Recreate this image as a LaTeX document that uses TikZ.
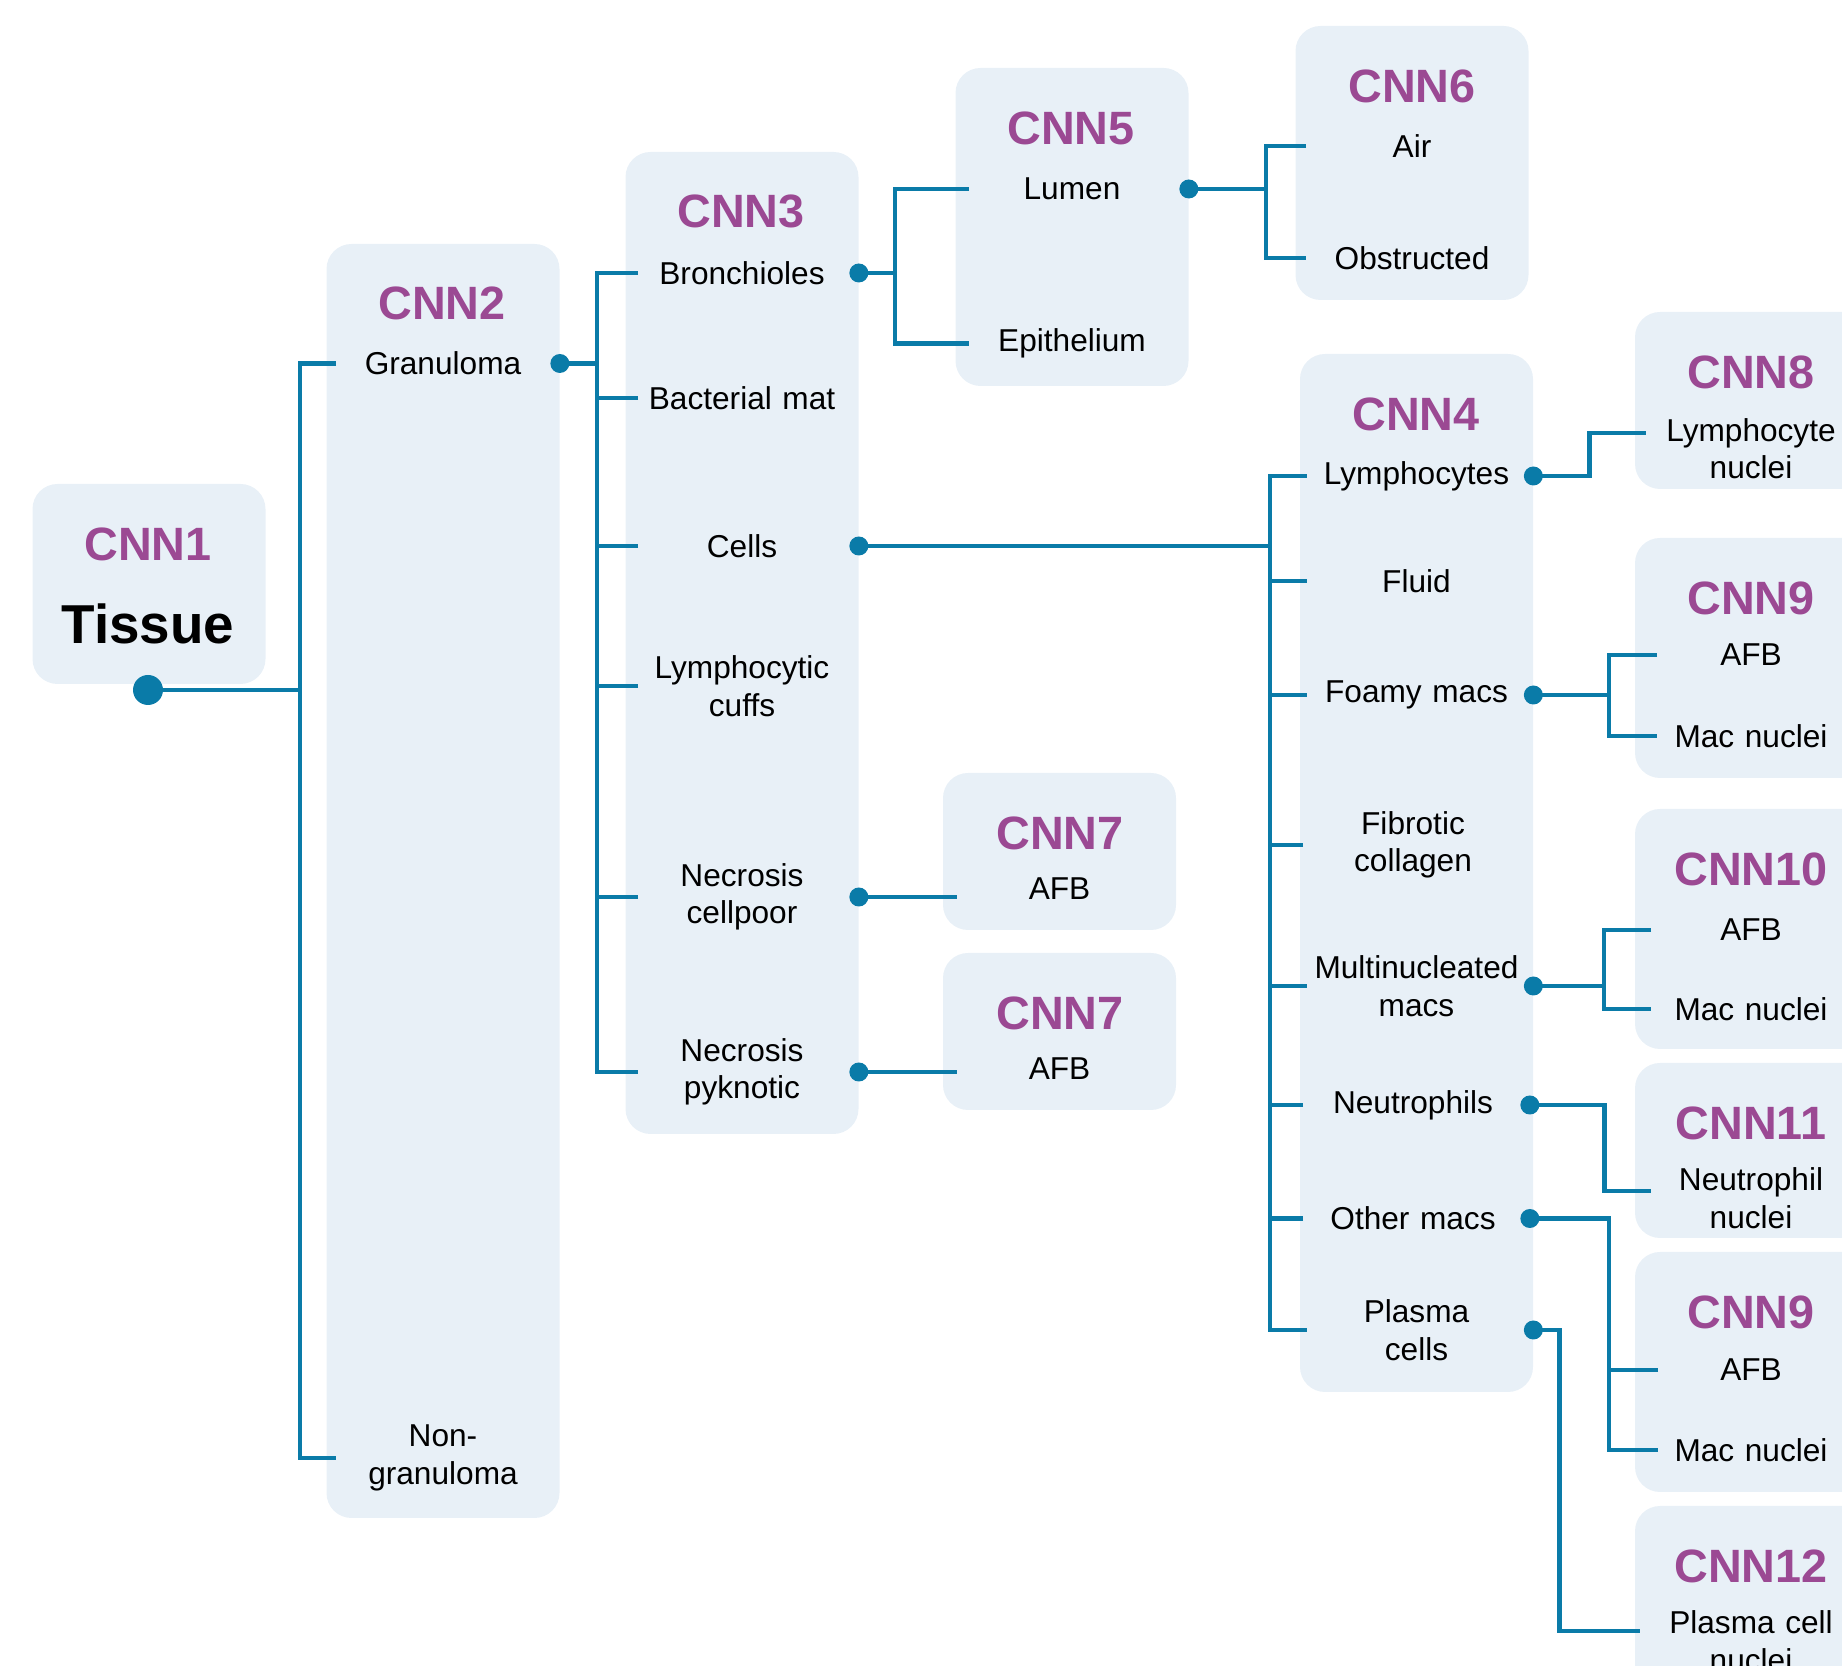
\documentclass[tikz,border=0pt]{standalone}
\usepackage{fontspec}
\setmainfont{Liberation Sans}
\usepackage{xcolor}
\usepackage{tikz}
\definecolor{boxblue}{HTML}{E8F0F7}
\definecolor{linkblue}{HTML}{0A7BA8}
\definecolor{cnnpurple}{HTML}{9B4993}
\tikzset{
  cnnbox/.style={fill=boxblue, rounded corners=0.5cm, minimum width=4.66cm, inner sep=0pt},
  cnn/.style={text=cnnpurple, font=\bfseries\fontsize{26.6}{30}\selectfont},
  item/.style={font=\fontsize{18}{21.3}\selectfont, align=center, text width=4.66cm, inner xsep=0pt, inner ysep=0pt},
  link/.style={draw=linkblue, line width=2.8pt},
  dot/.style={circle, fill=linkblue, inner sep=0pt, minimum size=0.38cm},
  bigdot/.style={dot, minimum size=0.6cm},
}
\begin{document}
\begin{tikzpicture}
      \useasboundingbox (0,0) rectangle (36.84,33.32);
      \clip (0,0) rectangle (36.84,33.32);

      % Boxes
      \node[cnnbox, minimum height=4.00cm] (cnn1) at (2.98,21.64) {};
      \node[cnnbox, minimum height=25.48cm] (cnn2) at (8.86,15.70) {};
      \node[cnnbox, minimum height=19.64cm] (cnn3) at (14.84,20.46) {};
      \node[cnnbox, minimum height=6.36cm] (cnn5) at (21.44,28.78) {};
      \node[cnnbox, minimum height=5.48cm] (cnn6) at (28.24,30.06) {};
      \node[cnnbox, minimum height=20.76cm] (cnn4) at (28.33,15.86) {};
      \node[cnnbox, minimum height=3.14cm] (cnn7a) at (21.19,16.29) {};
      \node[cnnbox, minimum height=3.14cm] (cnn7b) at (21.19,12.69) {};
      \node[cnnbox, minimum height=3.54cm] (cnn8) at (35.03,25.31) {};
      \node[cnnbox, minimum height=4.80cm] (cnn9a) at (35.03,20.16) {};
      \node[cnnbox, minimum height=4.80cm] (cnn10) at (35.03,14.74) {};
      \node[cnnbox, minimum height=3.50cm] (cnn11) at (35.03,10.31) {};
      \node[cnnbox, minimum height=4.80cm] (cnn9b) at (35.03,5.88) {};
      \node[cnnbox, minimum height=4.00cm] (cnn12) at (35.03,1.20) {};

      % Titles
      \node[cnn] (t1) at (2.96,22.44) {CNN1};
      \node[font=\bfseries\fontsize{31.2}{34}\selectfont] (tissue) at (2.96,20.84) {Tissue};
      \node[cnn] (t2) at (8.84,27.26) {CNN2};
      \node[cnn] (t3) at (14.82,29.10) {CNN3};
      \node[cnn] (t5) at (21.42,30.76) {CNN5};
      \node[cnn] (t6) at (28.24,31.60) {CNN6};
      \node[cnn] (t4) at (28.32,25.04) {CNN4};
      \node[cnn] (t7a) at (21.20,16.66) {CNN7};
      \node[cnn] (t7b) at (21.20,13.06) {CNN7};
      \node[cnn] (t8) at (35.02,25.88) {CNN8};
      \node[cnn] (t9a) at (35.02,21.36) {CNN9};
      \node[cnn] (t10) at (35.02,15.94) {CNN10};
      \node[cnn] (t11) at (35.02,10.86) {CNN11};
      \node[cnn] (t9b) at (35.02,7.08) {CNN9};
      \node[cnn] (t12) at (35.02,2.00) {CNN12};

      % Items
      \node[item] (gran) at (8.86,26.05) {Granuloma};
      \node[item] (nongran) at (8.86,4.16) {Non-\\granuloma};

      \node[item] (bronch) at (14.84,27.86) {Bronchioles};
      \node[item] (bact) at (14.84,25.36) {Bacterial mat};
      \node[item] (cells) at (14.84,22.40) {Cells};
      \node[item] (cuffs) at (14.84,19.60) {Lymphocytic\\cuffs};
      \node[item] (cellpoor) at (14.84,15.38) {Necrosis\\cellpoor};
      \node[item] (pyk) at (14.84,11.88) {Necrosis\\pyknotic};

      \node[item] (lumen) at (21.44,29.54) {Lumen};
      \node[item] (epith) at (21.44,26.45) {Epithelium};

      \node[item] (air) at (28.24,30.40) {Air};
      \node[item] (obstr) at (28.24,28.16) {Obstructed};

      \node[item] (lympho) at (28.33,23.80) {Lymphocytes};
      \node[item] (fluid) at (28.33,21.70) {Fluid};
      \node[item] (foamy) at (28.33,19.42) {Foamy macs};
      \node[item] (fibro) at (28.26,16.42) {Fibrotic\\collagen};
      \node[item] (multi) at (28.33,13.60) {Multinucleated\\macs};
      \node[item] (neutro) at (28.26,11.22) {Neutrophils};
      \node[item] (omacs) at (28.26,8.95) {Other macs};
      \node[item] (plasma) at (28.33,6.72) {Plasma\\cells};

      \node[item] (afb7a) at (21.19,15.54) {AFB};
      \node[item] (afb7b) at (21.19,11.94) {AFB};

      \node[item] (lymnuc) at (35.02,24.34) {Lymphocyte\\nuclei};
      \node[item] (afb9a) at (35.02,20.22) {AFB};
      \node[item] (mac9a) at (35.02,18.60) {Mac nuclei};
      \node[item] (afb10) at (35.02,14.72) {AFB};
      \node[item] (mac10) at (35.02,13.14) {Mac nuclei};
      \node[item] (neunuc) at (35.02,9.36) {Neutrophil\\nuclei};
      \node[item] (afb9b) at (35.02,5.92) {AFB};
      \node[item] (mac9b) at (35.02,4.32) {Mac nuclei};
      \node[item] (plasnuc) at (35.02,0.50) {Plasma cell\\nuclei};

      % CNN1 -> CNN2
      \node[bigdot] (tdot) at (2.96,19.52) {};
      \coordinate (b1) at (6.00,19.52);
      \draw[link] (tdot) -- (b1);
      \draw[link] ([xshift=0.2cm]gran.west) -| (b1) |- ([xshift=0.2cm]nongran.west);

      % CNN2 -> CNN3
      \coordinate (b2) at (11.94,26.05);
      \draw[link] (gran.east) -- (b2);
      \draw[link] ([xshift=0.26cm]bronch.west) -| (b2) |- ([xshift=0.26cm]pyk.west);
      \foreach \n in {bact,cells,cuffs,cellpoor}
        \draw[link] ([xshift=0.26cm]\n.west) -- (\n.west -| b2);

      % Bronchioles -> CNN5
      \coordinate (b3) at (17.90,27.86);
      \draw[link] (bronch.east) -- (b3);
      \draw[link] ([xshift=0.28cm]lumen.west) -| (b3) |- ([xshift=0.28cm]epith.west);

      % Lumen -> CNN6
      \coordinate (b4) at (25.32,29.54);
      \draw[link] (lumen.east) -- (b4);
      \draw[link] ([xshift=0.22cm]air.west) -| (b4) |- ([xshift=0.22cm]obstr.west);

      % Cells -> CNN4
      \coordinate (b5) at (25.40,22.40);
      \draw[link] (cells.east) -- (b5);
      \draw[link] ([xshift=0.14cm]lympho.west) -| (b5) |- ([xshift=0.14cm]plasma.west);
      \foreach \n in {fluid,foamy,fibro,multi,neutro,omacs}
        \draw[link] ([xshift=0.14cm]\n.west) -- (\n.west -| b5);

      % Necrosis -> CNN7
      \draw[link] (cellpoor.east) -- ([xshift=0.28cm]cellpoor.east -| cnn7a.west);
      \draw[link] (pyk.east) -- ([xshift=0.28cm]pyk.east -| cnn7b.west);

      % CNN4 -> right column
      \draw[link] (lympho.east) -- ++(1.12,0) |- ([xshift=0.24cm,yshift=0.32cm]lymnuc.west);
      \coordinate (b6) at (32.18,19.42);
      \draw[link] (foamy.east) -- (b6);
      \draw[link] ([xshift=0.46cm]afb9a.west) -| (b6) |- ([xshift=0.46cm]mac9a.west);
      \coordinate (b7) at (32.08,13.60);
      \draw[link] (multi.east) -- (b7);
      \draw[link] ([xshift=0.34cm]afb10.west) -| (b7) |- ([xshift=0.34cm]mac10.west);
      \draw[link] (neutro.east) -- ++(1.49,0) |- ([xshift=0.34cm,yshift=0.14cm]neunuc.west);
      \coordinate (b8) at (32.18,8.95);
      \draw[link] (omacs.east) -- (b8) |- ([xshift=0.48cm]mac9b.west);
      \draw[link] ([xshift=0.48cm]afb9b.west) -- (afb9b.west -| b8);
      \draw[link] (plasma.east) -- ++(0.52,0) |- ([xshift=0.12cm,yshift=0.2cm]plasnuc.west);

      % Dots
      \foreach \n in {gran,bronch,cells,cellpoor,pyk,lumen,lympho,foamy,multi,neutro,omacs,plasma}
        \node[dot] (\n-dot) at (\n.east) {};
    \end{tikzpicture}
\end{document}
